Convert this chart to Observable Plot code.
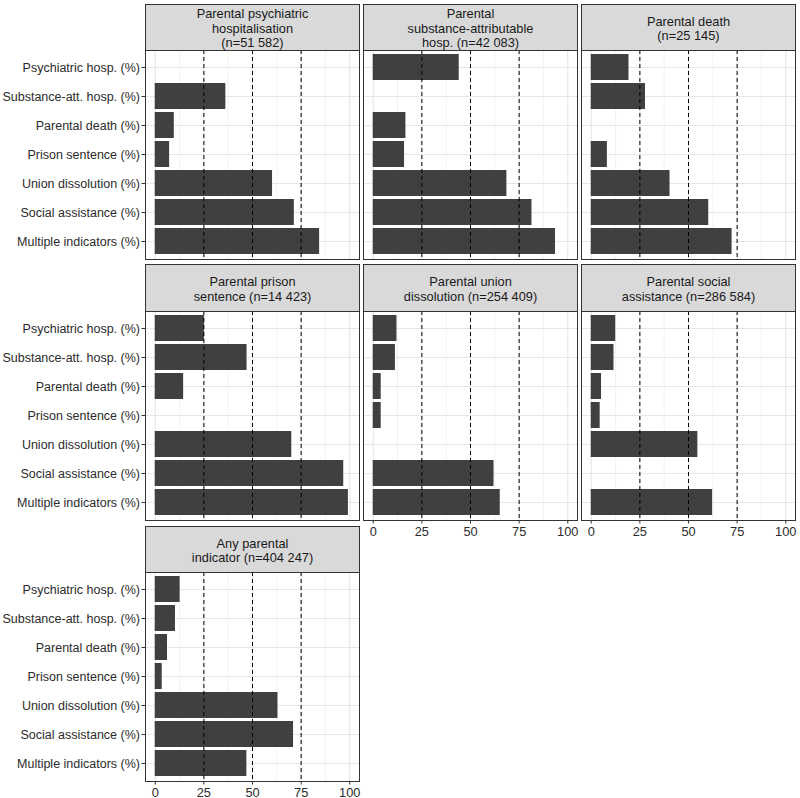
<!DOCTYPE html>
<html>
<head>
<meta charset="utf-8">
<script src="https://cdn.jsdelivr.net/npm/d3@7"></script>
<script src="https://cdn.jsdelivr.net/npm/@observablehq/plot@0.6"></script>
<style>
  html, body { margin: 0; padding: 0; background: #ffffff; }
  #chart { position: relative; width: 800px; height: 798px; background: #ffffff; font-family: "Liberation Sans", Arial, sans-serif; }
  .strip { position: absolute; box-sizing: border-box; background: #d9d9d9; border: 1px solid #333333;
           display: flex; align-items: center; justify-content: center; text-align: center;
           white-space: pre-line; font-size: 12.8px; line-height: 14.4px; color: #1a1a1a; padding-top: 3px; }
  .panel { position: absolute; }
</style>
</head>
<body>
<div id="chart"></div>
<script>
// ---- Data ----
const categories = [
  "Psychiatric hosp. (%)",
  "Substance-att. hosp. (%)",
  "Parental death (%)",
  "Prison sentence (%)",
  "Union dissolution (%)",
  "Social assistance (%)",
  "Multiple indicators (%)"
];
const panelTitles = [
  "Parental psychiatric\nhospitalisation\n(n=51 582)",
  "Parental\nsubstance-attributable\nhosp. (n=42 083)",
  "Parental death\n(n=25 145)",
  "Parental prison\nsentence (n=14 423)",
  "Parental union\ndissolution (n=254 409)",
  "Parental social\nassistance (n=286 584)",
  "Any parental\nindicator (n=404 247)"
];
const psychiatricValues = [null, 36.3, 9.8, 7.4, 60.3, 71.5, 84.5];
const substanceValues   = [44.2, null, 16.8, 16.1, 68.7, 81.6, 93.7];
const deathValues       = [19.4, 27.9, null, 8.3, 40.5, 60.4, 72.4];
const prisonValues      = [25.3, 47.2, 14.6, null, 70.2, 96.9, 99.3];
const unionValues       = [12.2, 11.4, 4.1, 4.1, null, 62.1, 65.3];
const socialValues      = [12.6, 11.7, 5.3, 4.6, 54.8, null, 62.4];
const anyValues         = [12.8, 10.4, 6.3, 3.6, 63.1, 71.1, 47.1];
const seriesValues = [psychiatricValues, substanceValues, deathValues, prisonValues, unionValues, socialValues, anyValues];
const xTicks = [0, 25, 50, 75, 100];
const xMinor = [12.5, 37.5, 62.5, 87.5];
const refLines = [25, 50, 75];

// ---- Layout ----
const colLeft = [145, 363, 581];
const panelW = 214;
const stripTop = [4, 264, 526];
const panelTop = [50, 311, 572];
const panelH = 209;
const chart = document.getElementById("chart");

panelTitles.forEach((title, idx) => {
  const col = idx % 3, row = Math.floor(idx / 3);
  const rows = categories.map((c, i) => ({category: c, value: seriesValues[idx][i]}))
                         .filter(d => d.value != null);
  const isLeft = col === 0;
  const hasX = (idx === 6) || (idx === 4) || (idx === 5);
  const ML = isLeft ? 145 : 1;
  const MB = hasX ? 24 : 1;

  // strip
  const strip = document.createElement("div");
  strip.className = "strip";
  strip.style.left = colLeft[col] + "px";
  strip.style.top = stripTop[row] + "px";
  strip.style.width = (panelW + 1) + "px";
  strip.style.height = (panelTop[row] - stripTop[row] + 1) + "px";
  strip.textContent = title;

  const marks = [
    Plot.gridX(xMinor, {stroke: "#ebebeb", strokeOpacity: 1, strokeWidth: 0.6}),
    Plot.gridX(xTicks, {stroke: "#e6e6e6", strokeOpacity: 1, strokeWidth: 1.1}),
    Plot.gridY({stroke: "#e6e6e6", strokeOpacity: 1, strokeWidth: 1.1}),
    Plot.barX(rows, {x: "value", y: "category", fill: "#404040"}),
    Plot.ruleX(refLines, {stroke: "#000000", strokeWidth: 1, strokeDasharray: "4,3"}),
    Plot.frame({stroke: "#333333", strokeWidth: 1})
  ];
  if (isLeft) marks.push(Plot.axisY({tickSize: 3.5, tickPadding: 2, fontSize: 12.5, fill: "#2b2b2b", stroke: "#333333", label: null}));
  if (hasX) marks.push(Plot.axisX({ticks: xTicks, tickSize: 3.5, tickPadding: 2.5, fontSize: 12.8, fill: "#2b2b2b", stroke: "#333333", label: null}));

  const svg = Plot.plot({
    width: ML + panelW + 1,
    height: 1 + panelH + MB,
    marginLeft: ML,
    marginRight: 1,
    marginTop: 1,
    marginBottom: MB,
    style: {fontFamily: "'Liberation Sans', Arial, sans-serif", background: "transparent", overflow: "visible"},
    x: {domain: [-5, 105], axis: hasX ? undefined : null},
    y: {domain: categories, paddingInner: 0.1, paddingOuter: 0.15, axis: isLeft ? undefined : null},
    marks
  });
  svg.classList.add("panel");
  svg.style.position = "absolute";
  svg.style.left = (colLeft[col] - ML) + "px";
  svg.style.top = (panelTop[row] - 1) + "px";
  chart.appendChild(svg);
  chart.appendChild(strip);
});
</script>
</body>
</html>
